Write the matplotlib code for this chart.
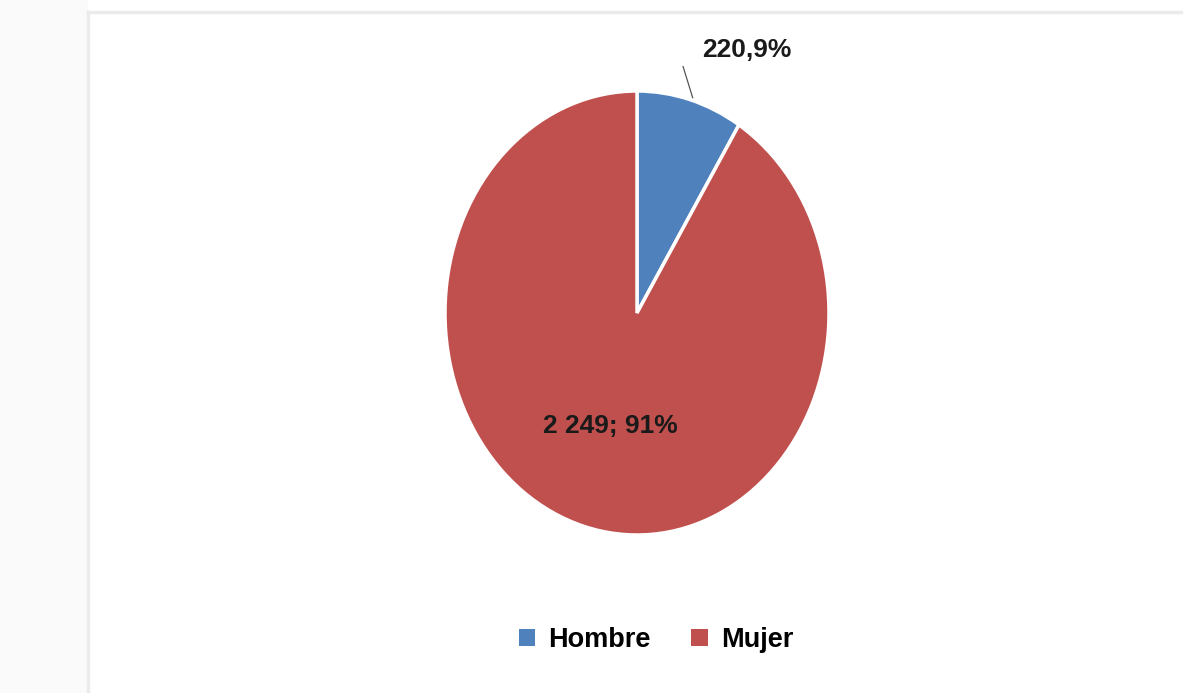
import matplotlib
matplotlib.use("Agg")
import matplotlib.pyplot as plt
from matplotlib.patches import Rectangle, Patch
from matplotlib.lines import Line2D

categories = ["Hombre", "Mujer"]
values = [220, 2249]
labels_text = ["220,9%", "2 249; 91%"]
colors = ["#4F81BD", "#C0504D"]

plt.rcParams['font.family'] = ['Liberation Sans Narrow', 'Liberation Sans', 'DejaVu Sans']

W, H = 1183, 693
fig = plt.figure(figsize=(W / 100, H / 100), dpi=100)
fig.patch.set_facecolor("white")

# background panel / borders
fig.patches.append(Rectangle((0, 0), 88 / W, 1, transform=fig.transFigure,
                             facecolor="#fafafa", edgecolor="none", zorder=0))
fig.add_artist(Line2D([88 / W, 88 / W], [0, 1 - 12 / H], transform=fig.transFigure,
                      color="#ebebeb", lw=2.5, zorder=1))
fig.add_artist(Line2D([88 / W, 1], [1 - 12 / H, 1 - 12 / H], transform=fig.transFigure,
                      color="#ebebeb", lw=2.5, zorder=1))

cx, cy, rx, ry = 637, 313, 192, 222
ax = fig.add_axes([(cx - rx) / W, (H - (cy + ry)) / H, 2 * rx / W, 2 * ry / H])
wedges, _ = ax.pie(values, colors=colors, startangle=90, counterclock=False,
                   radius=1, wedgeprops=dict(edgecolor="white", linewidth=2.5))
ax.set_aspect('auto')
ax.set_xlim(-1, 1)
ax.set_ylim(-1, 1)
ax.axis('off')

# data labels
ax.text(0.57, 1.185, labels_text[0], ha="center", va="center", fontsize=19,
        fontweight="bold", color="#1a1a1a", clip_on=False)
ax.plot([0.24, 0.29], [1.11, 0.97], color="#555555", lw=0.9, clip_on=False)
ax.text(-0.14, -0.51, labels_text[1], ha="center", va="center", fontsize=19,
        fontweight="bold", color="#1a1a1a")

handles = [Patch(facecolor=c, edgecolor="none") for c in colors]
leg = fig.legend(handles, categories, loc="center", ncol=2,
                 bbox_to_anchor=(656 / W, (H - 640) / H), frameon=False,
                 handlelength=0.6, handleheight=0.6, handletextpad=0.5,
                 columnspacing=1.5, prop=dict(size=19.5, weight="bold"))

fig.savefig("out.png", dpi=100)
